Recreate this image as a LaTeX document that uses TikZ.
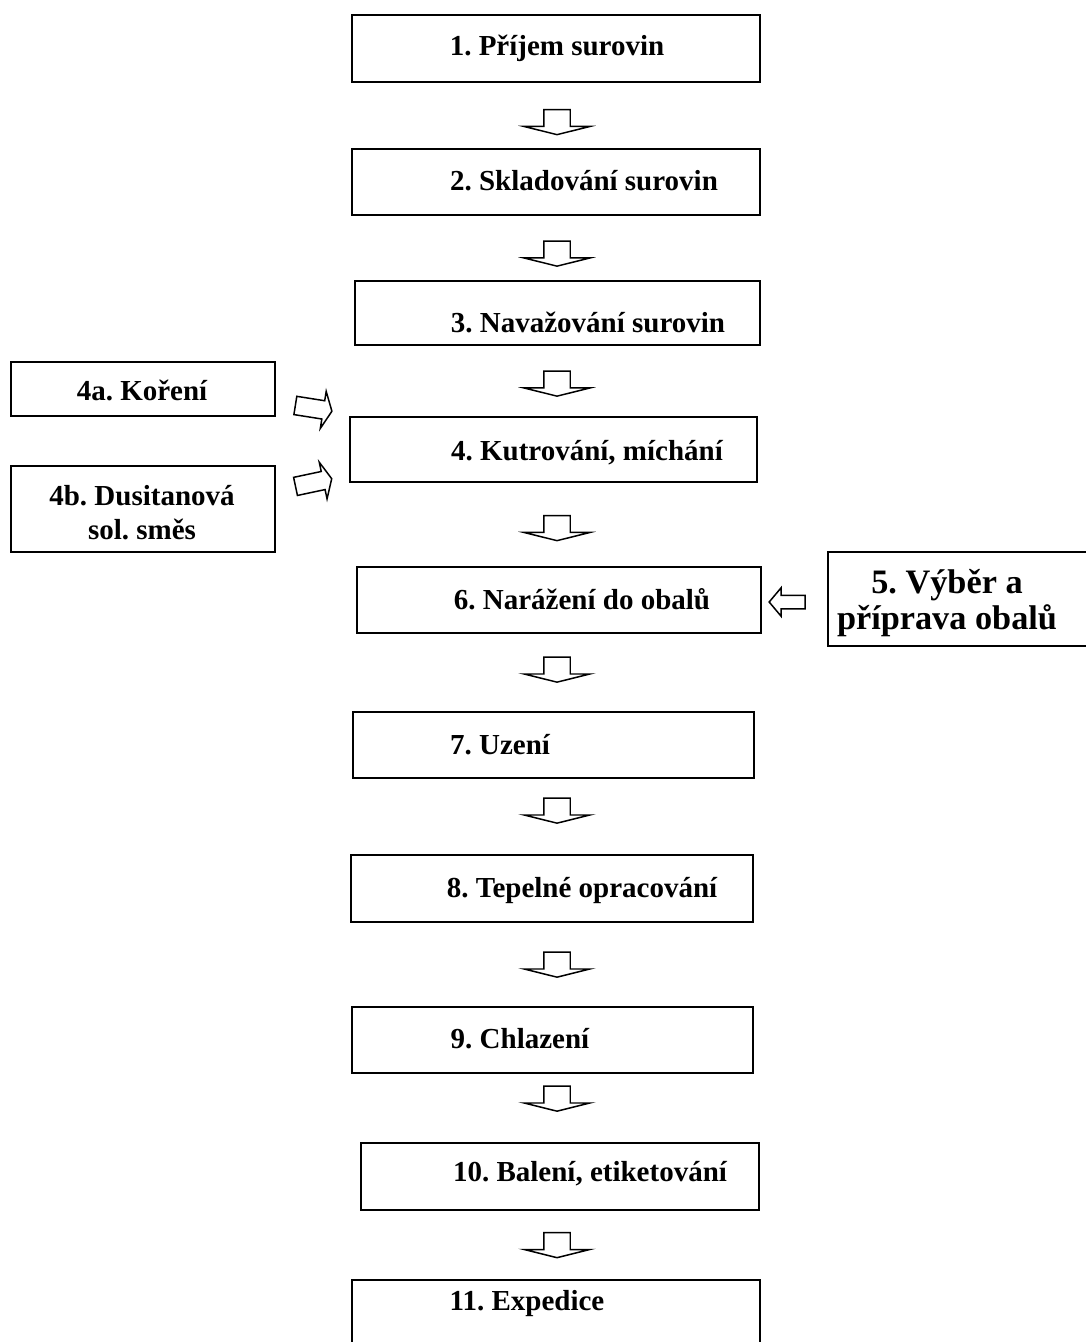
\documentclass[tikz,border=0pt]{standalone}
\usepackage{fontspec}
\setmainfont{Liberation Serif}
\frenchspacing
\usetikzlibrary{shapes.arrows}

\begin{document}
\begin{tikzpicture}[
        stagebox/.style={draw, line width=1.1pt, inner sep=0pt},
        stagetext/.style={font=\fontsize{16.5}{19.5}\selectfont\bfseries, align=center,
            inner sep=0pt, text height=10.9pt, text depth=0pt},
        downarr/.style={draw, line width=0.85pt, single arrow, inner xsep=0pt, inner ysep=0.25cm,
            minimum height=0.5cm, single arrow head extend=0.39cm,
            single arrow tip angle=152, rotate=-90},
        sidearr/.style={draw, line width=0.85pt, single arrow, inner xsep=0pt, inner ysep=0.17cm,
            minimum height=0.74cm, single arrow head extend=0.19cm,
            single arrow tip angle=130}
    ]
            \useasboundingbox (0, 0) rectangle (21.72, -26.84);

            % main line
            \node[stagebox, minimum width=8.16cm, minimum height=1.34cm] (B1) at (11.12, -0.97) {};
            \node[stagebox, minimum width=8.16cm, minimum height=1.32cm] (B2) at (11.12, -3.64) {};
            \node[stagebox, minimum width=8.10cm, minimum height=1.28cm] (B3) at (11.15, -6.26) {};
            \node[stagebox, minimum width=8.14cm, minimum height=1.30cm] (B4) at (11.07, -8.99) {};
            \node[stagebox, minimum width=8.08cm, minimum height=1.32cm] (B6) at (11.18, -12.00) {};
            \node[stagebox, minimum width=8.02cm, minimum height=1.32cm] (B7) at (11.07, -14.90) {};
            \node[stagebox, minimum width=8.04cm, minimum height=1.34cm] (B8) at (11.04, -17.77) {};
            \node[stagebox, minimum width=8.02cm, minimum height=1.32cm] (B9) at (11.05, -20.80) {};
            \node[stagebox, minimum width=7.96cm, minimum height=1.34cm] (B10) at (11.20, -23.53) {};
            \node[stagebox, minimum width=8.16cm, minimum height=1.30cm] (B11) at (11.12, -26.25) {};

            % side boxes
            \node[stagebox, minimum width=5.28cm, minimum height=1.08cm] (B4a) at (2.86, -7.78) {};
            \node[stagebox, minimum width=5.28cm, minimum height=1.72cm] (B4b) at (2.86, -10.18) {};
            \node[stagebox, minimum width=5.34cm, minimum height=1.88cm] (B5) at (19.23, -11.98) {};

            \node[stagetext] (T1) at (11.14, -0.92) {1. Příjem surovin};
            \node[stagetext] (T2) at (11.68, -3.62) {2. Skladování surovin};
            \node[stagetext] (T3) at (11.76, -6.46) {3. Navažování surovin};
            \node[stagetext] (T4) at (11.74, -9.02) {4. Kutrování, míchání};
            \node[stagetext] (T6) at (11.64, -12.00) {6. Narážení do obalů};
            \node[stagetext] (T7) at (10.00, -14.90) {7. Uzení};
            \node[stagetext] (T8) at (11.64, -17.76) {8. Tepelné opracování};
            \node[stagetext] (T9) at (10.40, -20.78) {9. Chlazení};
            \node[stagetext] (T10) at (11.80, -23.44) {10. Balení, etiketování};
            \node[stagetext] (T11) at (10.54, -26.02) {11. Expedice};
            \node[stagetext] (T4a) at (2.84, -7.82) {4a. Koření};
            \node[stagetext, text height=30.4pt] (T4b) at (2.84, -10.26) {4b. Dusitanová\\sol. směs};
            \node[stagetext, font=\fontsize{19.5}{20.5}\selectfont\bfseries, text height=33.4pt]
                (T5) at (18.94, -12.00) {5. Výběr a\\příprava obalů};

            % block arrows
            \node[downarr] (A12) at (11.14, -2.41) {};
            \node[downarr] (A23) at (11.14, -5.04) {};
            \node[downarr] (A34) at (11.14, -7.64) {};
            \node[downarr] (A46) at (11.14, -10.53) {};
            \node[downarr] (A67) at (11.14, -13.36) {};
            \node[downarr] (A78) at (11.14, -16.18) {};
            \node[downarr] (A89) at (11.14, -19.26) {};
            \node[downarr] (A910) at (11.14, -21.94) {};
            \node[downarr] (A1011) at (11.14, -24.87) {};

            \node[sidearr, rotate=-9] (A4a) at (6.23, -8.16) {};
            \node[sidearr, rotate=12] (A4b) at (6.23, -9.66) {};
            \node[sidearr, rotate=180, minimum height=0.72cm, inner ysep=0.12cm,
                single arrow head extend=0.15cm, single arrow tip angle=100] (A5) at (15.80, -12.04) {};
        \end{tikzpicture}
\end{document}
